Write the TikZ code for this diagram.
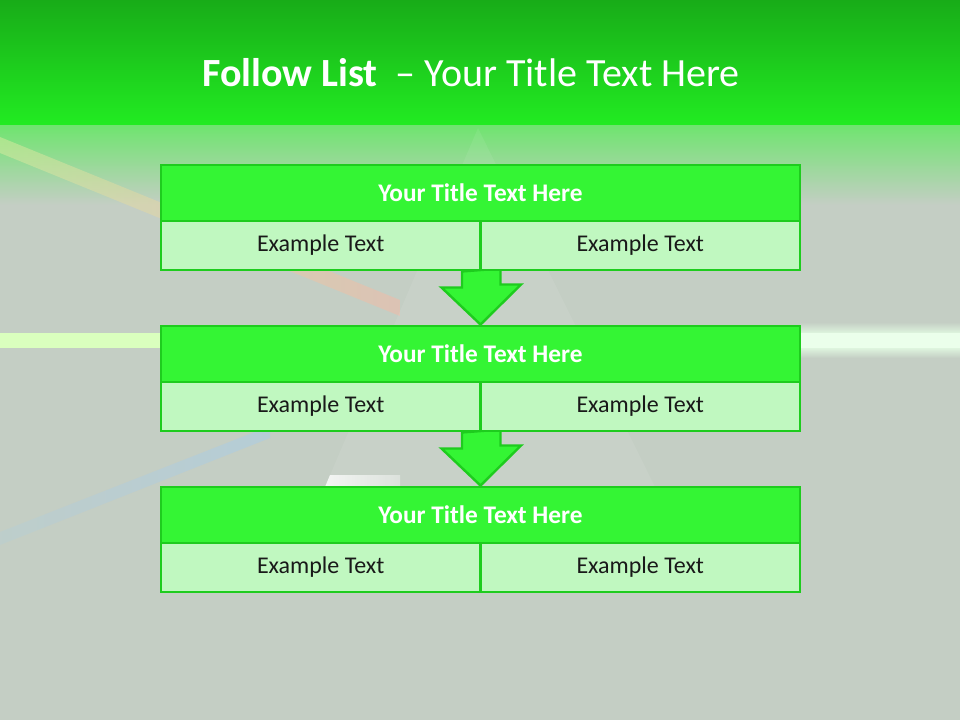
\documentclass[tikz,border=0pt]{standalone}
\usepackage{fontspec}
\setmainfont{Carlito}
\definecolor{hdrtop}{RGB}{24,172,24}
\definecolor{hdrbot}{RGB}{34,236,34}
\definecolor{hdrfade}{RGB}{112,228,112}
\definecolor{slidebg}{RGB}{196,206,196}
\definecolor{titlefill}{RGB}{52,245,52}
\definecolor{cellfill}{RGB}{192,248,192}
\definecolor{edgegreen}{RGB}{30,204,30}
\definecolor{streakpink}{RGB}{245,185,165}
\definecolor{streakyellow}{RGB}{220,235,160}
\definecolor{streakblue}{RGB}{170,205,230}
\definecolor{streaklime}{RGB}{218,255,190}

\begin{document}
\begin{tikzpicture}[x=0.75pt,y=-0.75pt,font=\fontsize{18}{21}\selectfont,
  band/.style={draw=edgegreen, line width=2.2pt, fill=titlefill, minimum width=479.25pt, minimum height=42pt, text=white, font=\fontsize{19}{22}\selectfont\bfseries},
  cell/.style={draw=edgegreen, line width=2.2pt, fill=cellfill, minimum width=239.6pt, minimum height=36.75pt, text=black!90},
  blockarrow/.style={draw=edgegreen, line width=1.8pt, fill=titlefill, line join=miter}]
\useasboundingbox (0,0) rectangle (960,720);
\fill[slidebg] (0,0) rectangle (960,720);
\shade[top color=hdrtop, bottom color=hdrbot] (0,0) rectangle (960,126);
\shade[top color=hdrfade, bottom color=slidebg] (0,126) rectangle (960,205);
\shade[left color=streakyellow, right color=streakpink, opacity=.5] (0,137) -- (400,300) -- (400,316) -- (0,153) -- cycle;
\shade[left color=streakblue!40!slidebg, right color=streakblue, opacity=.55] (0,532) -- (270,426) -- (270,438) -- (0,545) -- cycle;
\fill[streaklime] (0,333) rectangle (162,348);
\shade[top color=slidebg, bottom color=white!90!green, opacity=.8] (800,322) rectangle (960,333);
\fill[white!92!green] (800,333) rectangle (960,348);
\shade[top color=white!90!green, bottom color=slidebg, opacity=.8] (800,348) rectangle (960,358);
\fill[white, opacity=.07] (478,128) -- (325,487) -- (655,487) -- cycle;
\shade[left color=white, right color=white!50!slidebg, opacity=.8] (330,475) -- (400,475) -- (400,487) -- (325,487) -- cycle;
\node[anchor=base, text=white, font=\fontsize{30}{35}\selectfont] (slidetitle) at (471,87) {\textbf{Follow List} \ – Your Title Text Here};
\node[band] (t1) at (480.5,193) {};
\node[cell] (c1l) at (320.75,245.5) {};\node[cell] (c1r) at (640.25,245.5) {};
\node[band] (t2) at (480.5,354) {};
\node[cell] (c2l) at (320.75,406.5) {};\node[cell] (c2r) at (640.25,406.5) {};
\node[band] (t3) at (480.5,515) {};
\node[cell] (c3l) at (320.75,567.5) {};\node[cell] (c3r) at (640.25,567.5) {};
\draw[blockarrow] (c1l.south east) ++(-20,0) -- ++(0,16) -- ++(-20.5,0) -- (t2.north) -- ++(40.5,-40) -- ++(-20.5,0) -- ++(0,-16) -- cycle;
\draw[blockarrow] (c2l.south east) ++(-20,0) -- ++(0,16) -- ++(-20.5,0) -- (t3.north) -- ++(40.5,-40) -- ++(-20.5,0) -- ++(0,-16) -- cycle;
\node[band] at (t1) {Your Title Text Here};
\node[cell] at (c1l) {Example Text};\node[cell] at (c1r) {Example Text};
\node[band] at (t2) {Your Title Text Here};
\node[cell] at (c2l) {Example Text};\node[cell] at (c2r) {Example Text};
\node[band] at (t3) {Your Title Text Here};
\node[cell] at (c3l) {Example Text};\node[cell] at (c3r) {Example Text};
\end{tikzpicture}
\end{document}
